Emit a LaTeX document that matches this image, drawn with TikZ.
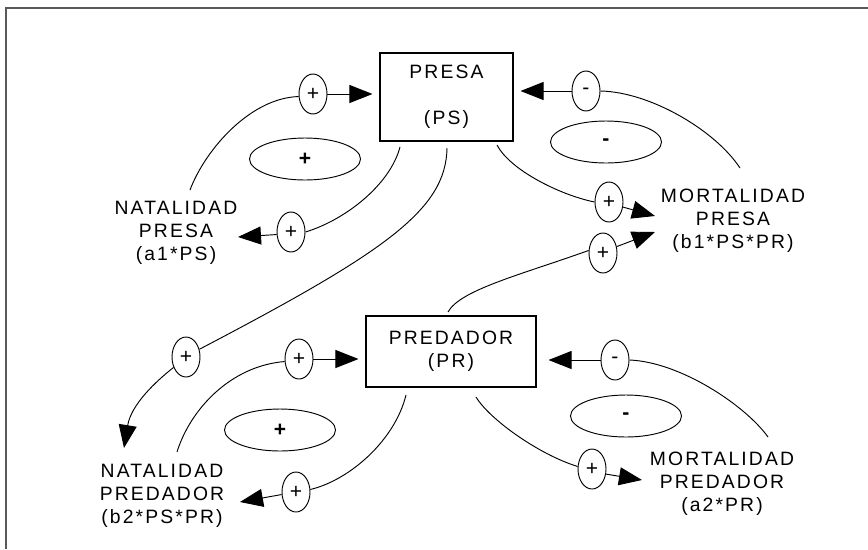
\documentclass[tikz,border=0pt]{standalone}
\usepackage{fontspec}
\setmainfont{Liberation Sans}[LetterSpace=11]
\newfontfamily\signfont{Liberation Sans}
\usetikzlibrary{arrows.meta,shapes.geometric}
\begin{document}
\begin{tikzpicture}[x=0.03cm,y=-0.03cm,
  lbl/.style={align=center,inner sep=0pt,font=\fontsize{16.5pt}{19.6pt}\selectfont},
  stock/.style={draw,rectangle,line width=0.9pt,inner sep=0pt,align=center,
    font=\fontsize{16.5pt}{19.6pt}\selectfont},
  sign/.style={draw,ellipse,line width=0.8pt,inner sep=0pt,
    minimum width=8.4mm,minimum height=12mm,font=\signfont\fontsize{18pt}{18pt}\selectfont},
  loopsign/.style={draw,ellipse,line width=0.8pt,inner sep=0pt,
    minimum width=33.3mm,minimum height=12.6mm,font=\signfont\bfseries\fontsize{18pt}{18pt}\selectfont},
  link/.style={line width=0.8pt},
  arr/.style={line width=0.8pt,-{Triangle[length=6.9mm,width=5.4mm]}}]

\useasboundingbox (0,0) rectangle (868,549);
% frame
\draw[gray!70!black,line width=0.6mm] (5.5,549) -- (5.5,7.5) -- (868,7.5);

% stocks
\node[stock,minimum width=39.9mm,minimum height=26.4mm] (ps) at (446.5,97) {PRESA\\[19.6pt](PS)};
\node[stock,minimum width=51mm,minimum height=21.3mm] (pr) at (451,351.5) {PREDADOR\\(PR)};

% flows
\node[lbl] (natps) at (176,233) {NATALIDAD\\PRESA\\(a1*PS)};
\node[lbl] (mortps) at (733,221) {MORTALIDAD\\PRESA\\(b1*PS*PR)};
\node[lbl] (natpr) at (162,496) {NATALIDAD\\PREDADOR\\(b2*PS*PR)};
\node[lbl] (mortpr) at (722,484) {MORTALIDAD\\PREDADOR\\(a2*PR)};

% link polarities
\node[sign] (sA) at (313,94) {+};
\node[sign] (sB) at (291,232) {+};
\node[sign] (sC) at (186,357) {+};
\node[sign] (sD) at (586,91) {-};
\node[sign] (sE) at (609,202) {+};
\node[sign] (sF) at (603,253) {+};
\node[sign] (sG) at (299,359) {+};
\node[sign] (sH) at (296,492) {+};
\node[sign] (sI) at (615,360) {-};
\node[sign] (sJ) at (592,469) {+};

% loop polarities
\node[loopsign] (bA) at (305,159) {+};
\node[loopsign] (bB) at (606,142) {-};
\node[loopsign] (bC) at (280,430) {+};
\node[loopsign] (bD) at (626,416) {-};

% connector end points
\coordinate (ps-o1) at (400,147);
\coordinate (ps-o2) at (447,148);
\coordinate (ps-o3) at (497,145);
\coordinate (pr-o1) at (448,312);
\coordinate (pr-o2) at (406,395);
\coordinate (pr-o3) at (476,397);
\coordinate (natps-t) at (190,190);
\coordinate (mortps-t) at (740,168);
\coordinate (natpr-t) at (177,452);
\coordinate (mortpr-t) at (768,437);
\coordinate (natps-i) at (238,237);
\coordinate (natpr-i) at (240,502);
\coordinate (natpr-i2) at (124,448);
\coordinate (mortps-i1) at (655,216);
\coordinate (mortps-i2) at (655,232);
\coordinate (mortpr-i) at (642,480);

% prey births
\draw[link] (natps-t) .. controls (205,150) and (250,98) .. (sA.190);
\draw[arr,shorten >=2.1mm] (sA.east) -- (sA.east -| ps.west);
\draw[link] (ps-o1) .. controls (390,185) and (345,220) .. (sB.east);
\draw[arr] (sB.190) -- (natps-i);

% prey deaths
\draw[link] (sD.east) .. controls (650,92) and (715,130) .. (mortps-t);
\draw[arr,shorten >=2.1mm] (sD.west) -- (sD.west -| ps.east);
\draw[link] (ps-o3) .. controls (510,170) and (560,195) .. (sE.west);
\draw[arr] (sE.-20) -- (mortps-i1);
\draw[link] (pr-o1) .. controls (460,290) and (520,275) .. (sF.170);
\draw[arr] (sF.25) -- (mortps-i2);

% predator births
\draw[link] (ps-o2) .. controls (446,210) and (385,252) .. (sC.30);
\draw[arr] (sC.220) .. controls (155,382) and (131,405) .. (natpr-i2);
\draw[link] (natpr-t) .. controls (190,410) and (230,366) .. (sG.190);
\draw[arr,shorten >=2.1mm] (sG.east) -- (sG.east -| pr.west);
\draw[link] (pr-o2) .. controls (395,440) and (350,480) .. (sH.10);
\draw[arr] (sH.190) -- (natpr-i);

% predator deaths
\draw[link] (sI.east) .. controls (680,362) and (745,405) .. (mortpr-t);
\draw[arr,shorten >=3.6mm] (sI.west) -- (sI.west -| pr.east);
\draw[link] (pr-o3) .. controls (490,420) and (540,455) .. (sJ.170);
\draw[arr] (sJ.-20) -- (mortpr-i);
\end{tikzpicture}
\end{document}
